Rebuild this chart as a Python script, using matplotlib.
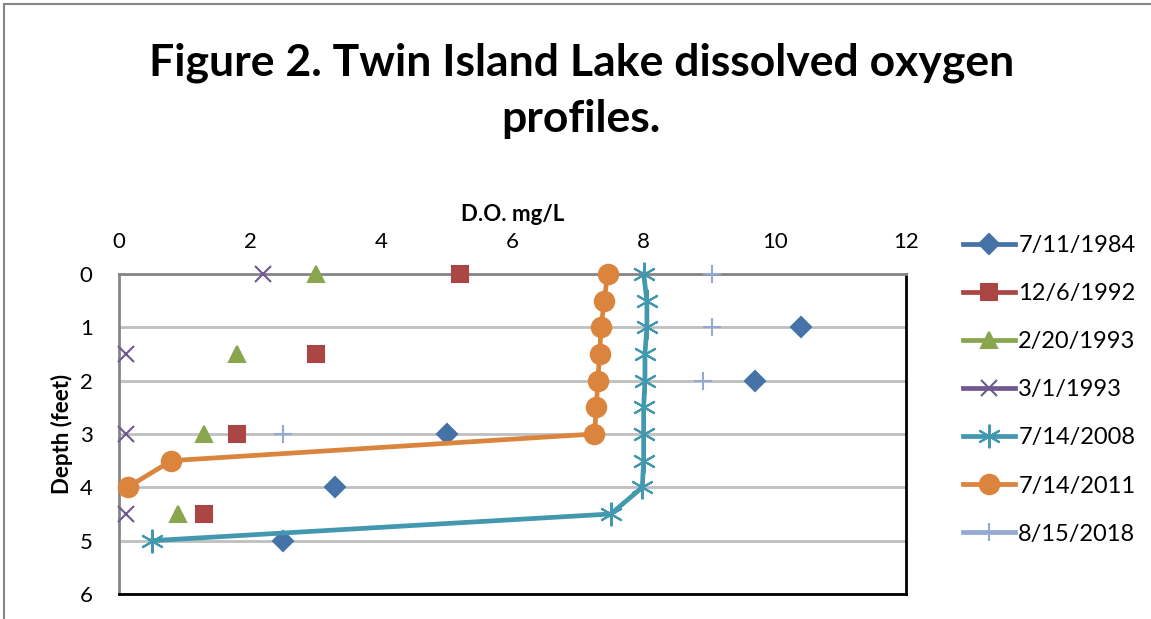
import matplotlib
matplotlib.use('Agg')
import matplotlib.pyplot as plt
from matplotlib.lines import Line2D

plt.rcParams['font.family'] = ['Lato', 'DejaVu Sans']

# D.O. profiles (mg/L) against depth (feet)
dates = ['7/11/1984', '12/6/1992', '2/20/1993', '3/1/1993',
         '7/14/2008', '7/14/2011', '8/15/2018']

depth_1984 = [1, 2, 3, 4, 5]
do_1984 = [10.4, 9.7, 5.0, 3.3, 2.5]

depth_1992 = [0, 1.5, 3, 4.5]
do_1992 = [5.2, 3.0, 1.8, 1.3]

depth_feb1993 = [0, 1.5, 3, 4.5]
do_feb1993 = [3.0, 1.8, 1.3, 0.9]

depth_mar1993 = [0, 1.5, 3, 4.5]
do_mar1993 = [2.2, 0.1, 0.1, 0.1]

depth_2008 = [0, 0.5, 1, 1.5, 2, 2.5, 3, 3.5, 4, 4.5, 5]
do_2008 = [8.0, 8.05, 8.05, 8.02, 8.02, 8.0, 8.0, 8.0, 7.98, 7.5, 0.5]

depth_2011 = [0, 0.5, 1, 1.5, 2, 2.5, 3, 3.5, 4]
do_2011 = [7.45, 7.4, 7.35, 7.33, 7.3, 7.28, 7.25, 0.8, 0.13]

depth_2018 = [0, 1, 2, 3]
do_2018 = [9.05, 9.05, 8.9, 2.5]

xs = [do_1984, do_1992, do_feb1993, do_mar1993, do_2008, do_2011, do_2018]
ys = [depth_1984, depth_1992, depth_feb1993, depth_mar1993, depth_2008, depth_2011, depth_2018]

colors = ['#4572A7', '#AA4643', '#89A54E', '#71588F', '#4198AF', '#DB843D', '#93A9CF']
markers = ['D', 's', '^', 'x', (6, 2, 0), 'o', '+']
msizes = [10, 11, 12, 12, 17, 14, 13]
connected = [False, False, False, False, True, True, False]

fig = plt.figure(figsize=(11.51, 6.19), dpi=100)
ax = fig.add_axes([0.1034, 0.0404, 0.6837, 0.517])

for i in range(len(dates)):
    ls = '-' if connected[i] else 'none'
    ax.plot(xs[i], ys[i], linestyle=ls, linewidth=3.4, color=colors[i],
            marker=markers[i], markersize=msizes[i], markeredgewidth=1.5,
            clip_on=False, zorder=3)

ax.set_xlim(0, 12)
ax.set_ylim(6, 0)
ax.set_xticks(range(0, 13, 2))
ax.set_yticks(range(0, 7))
ax.xaxis.tick_top()
ax.xaxis.set_label_position('top')
ax.tick_params(length=0, labelsize=16)
ax.tick_params(axis='x', pad=16)
ax.tick_params(axis='y', pad=19)
ax.yaxis.grid(True, color='#BFBFBF', linewidth=2)
ax.set_axisbelow(True)
ax.spines['top'].set_color('#868686')
ax.spines['left'].set_color('#868686')
ax.spines['bottom'].set_color('black')
ax.spines['right'].set_color('black')
for s in ax.spines.values():
    s.set_linewidth(2)

ax.set_xlabel('D.O. mg/L', fontsize=16, fontweight='bold', labelpad=8)
ax.set_ylabel('Depth (feet)', fontsize=16, fontweight='bold', labelpad=5)

fig.text(0.505, 0.853, 'Figure 2. Twin Island Lake dissolved oxygen\nprofiles.',
         ha='center', va='center', fontsize=32, fontweight='bold', linespacing=1.5)

handles = [Line2D([], [], color=colors[i], linewidth=3.4, marker=markers[i],
                  markersize=msizes[i], markeredgewidth=1.5) for i in range(len(dates))]
fig.legend(handles, dates, loc='upper left', bbox_to_anchor=(0.818, 0.655),
           frameon=False, fontsize=17, handlelength=2.2, handletextpad=0.15,
           labelspacing=1.15)

# outer chart border
fig.add_artist(Line2D([0.0035, 1], [0.994, 0.994], color='#868686', linewidth=1.5))
fig.add_artist(Line2D([0.0035, 0.0035], [0, 0.994], color='#868686', linewidth=1.5))

fig.savefig('out.png', dpi=100)
